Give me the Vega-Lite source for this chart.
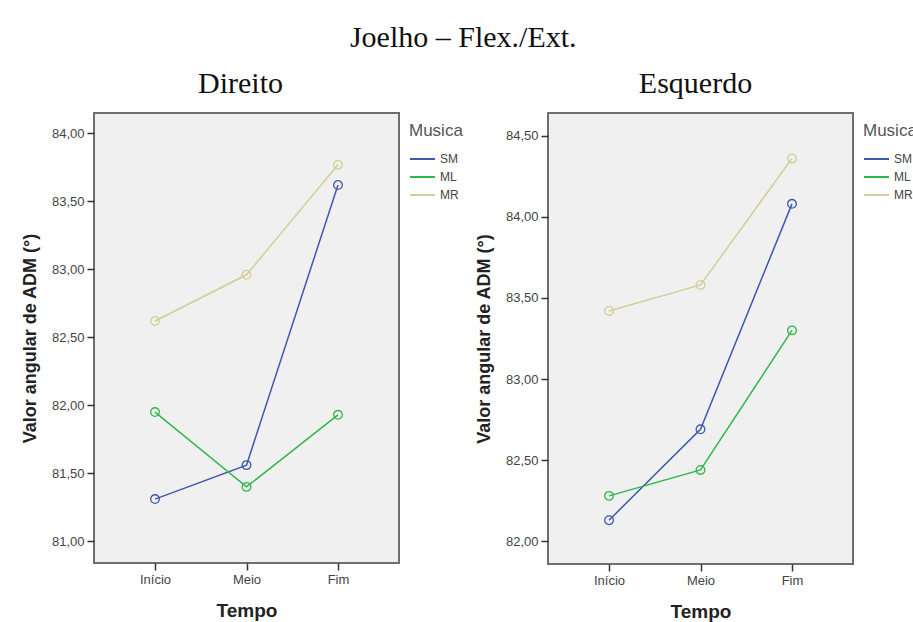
{
  "$schema": "https://vega.github.io/schema/vega-lite/v6.json",
  "background": "white",
  "padding": {"left": 20, "top": 23, "right": 0, "bottom": 0},
  "title": {
    "text": "Joelho – Flex./Ext.",
    "font": "Liberation Serif",
    "fontSize": 30,
    "fontWeight": "normal",
    "color": "#111111",
    "anchor": "middle",
    "offset": 15,
    "dx": -11
  },
  "data": {
    "values": [
      {"lado": "Direito", "tempo": "Início", "musica": "SM", "valor": 81.31},
      {"lado": "Direito", "tempo": "Meio", "musica": "SM", "valor": 81.56},
      {"lado": "Direito", "tempo": "Fim", "musica": "SM", "valor": 83.62},
      {"lado": "Direito", "tempo": "Início", "musica": "ML", "valor": 81.95},
      {"lado": "Direito", "tempo": "Meio", "musica": "ML", "valor": 81.40},
      {"lado": "Direito", "tempo": "Fim", "musica": "ML", "valor": 81.93},
      {"lado": "Direito", "tempo": "Início", "musica": "MR", "valor": 82.62},
      {"lado": "Direito", "tempo": "Meio", "musica": "MR", "valor": 82.96},
      {"lado": "Direito", "tempo": "Fim", "musica": "MR", "valor": 83.77},
      {"lado": "Esquerdo", "tempo": "Início", "musica": "SM", "valor": 82.13},
      {"lado": "Esquerdo", "tempo": "Meio", "musica": "SM", "valor": 82.69},
      {"lado": "Esquerdo", "tempo": "Fim", "musica": "SM", "valor": 84.08},
      {"lado": "Esquerdo", "tempo": "Início", "musica": "ML", "valor": 82.28},
      {"lado": "Esquerdo", "tempo": "Meio", "musica": "ML", "valor": 82.44},
      {"lado": "Esquerdo", "tempo": "Fim", "musica": "ML", "valor": 83.30},
      {"lado": "Esquerdo", "tempo": "Início", "musica": "MR", "valor": 83.42},
      {"lado": "Esquerdo", "tempo": "Meio", "musica": "MR", "valor": 83.58},
      {"lado": "Esquerdo", "tempo": "Fim", "musica": "MR", "valor": 84.36}
    ]
  },
  "spacing": 0,
  "hconcat": [
    {
      "title": {"text": "Direito", "font": "Liberation Serif", "fontSize": 30, "fontWeight": "normal", "color": "#111111", "anchor": "middle", "offset": 14, "dx": -6},
      "width": 305,
      "height": 450,
      "transform": [{"filter": "datum.lado === 'Direito'"}],
      "encoding": {
        "x": {
          "field": "tempo", "type": "ordinal", "sort": ["Início", "Meio", "Fim"],
          "scale": {"type": "point", "padding": 0.667},
          "axis": {"title": "Tempo", "labelAngle": 0}
        },
        "y": {
          "field": "valor", "type": "quantitative",
          "scale": {"domain": [80.84, 84.15], "nice": false, "zero": false},
          "axis": {
            "title": "Valor angular de ADM (°)",
            "values": [81, 81.5, 82, 82.5, 83, 83.5, 84],
            "labelExpr": "replace(format(datum.value, '.2f'), '.', ',')"
          }
        },
        "color": {
          "field": "musica", "type": "nominal", "sort": ["SM", "ML", "MR"],
          "scale": {"domain": ["SM", "ML", "MR"], "range": ["#3E58AC", "#2EB848", "#D3CE97"]},
          "legend": {"title": "Musica"}
        }
      },
      "layer": [
        {"mark": {"type": "line", "strokeWidth": 1.5}},
        {"mark": {"type": "point", "shape": "circle", "filled": false, "size": 75, "strokeWidth": 1.3, "opacity": 1}}
      ]
    },
    {
      "title": {"text": "Esquerdo", "font": "Liberation Serif", "fontSize": 30, "fontWeight": "normal", "color": "#111111", "anchor": "middle", "offset": 14, "dx": -5},
      "width": 305,
      "height": 451,
      "transform": [{"filter": "datum.lado === 'Esquerdo'"}],
      "encoding": {
        "x": {
          "field": "tempo", "type": "ordinal", "sort": ["Início", "Meio", "Fim"],
          "scale": {"type": "point", "padding": 0.667},
          "axis": {"title": "Tempo", "labelAngle": 0}
        },
        "y": {
          "field": "valor", "type": "quantitative",
          "scale": {"domain": [81.86, 84.64], "nice": false, "zero": false},
          "axis": {
            "title": "Valor angular de ADM (°)",
            "values": [82, 82.5, 83, 83.5, 84, 84.5],
            "labelExpr": "replace(format(datum.value, '.2f'), '.', ',')"
          }
        },
        "color": {
          "field": "musica", "type": "nominal", "sort": ["SM", "ML", "MR"],
          "scale": {"domain": ["SM", "ML", "MR"], "range": ["#3E58AC", "#2EB848", "#D3CE97"]},
          "legend": {"title": "Musica"}
        }
      },
      "layer": [
        {"mark": {"type": "line", "strokeWidth": 1.5}},
        {"mark": {"type": "point", "shape": "circle", "filled": false, "size": 75, "strokeWidth": 1.3, "opacity": 1}}
      ]
    }
  ],
  "resolve": {
    "scale": {"y": "independent", "color": "independent"},
    "legend": {"color": "independent"}
  },
  "config": {
    "view": {"fill": "#F0F0F0", "stroke": "#6e6e6e", "strokeWidth": 2},
    "axis": {
      "labelFont": "Liberation Sans",
      "labelFontSize": 13,
      "labelColor": "#444444",
      "titleFont": "Liberation Sans",
      "titleFontSize": 18,
      "titleFontWeight": "bold",
      "titleColor": "#222222",
      "tickColor": "#333333",
      "tickSize": 7,
      "tickWidth": 1.5,
      "domain": false,
      "grid": false,
      "labelPadding": 3
    },
    "axisY": {"titlePadding": 12},
    "axisX": {"titlePadding": 15, "titleFontSize": 19},
    "legend": {
      "titleFont": "Liberation Sans",
      "titleFontSize": 17,
      "titleFontWeight": "normal",
      "titleColor": "#555555",
      "labelFont": "Liberation Sans",
      "labelFontSize": 12,
      "labelColor": "#444444",
      "symbolType": "stroke",
      "symbolSize": 625,
      "symbolStrokeWidth": 2,
      "clipHeight": 16,
      "rowPadding": 2,
      "offset": 0,
      "padding": 10,
      "titlePadding": 11
    }
  }
}
